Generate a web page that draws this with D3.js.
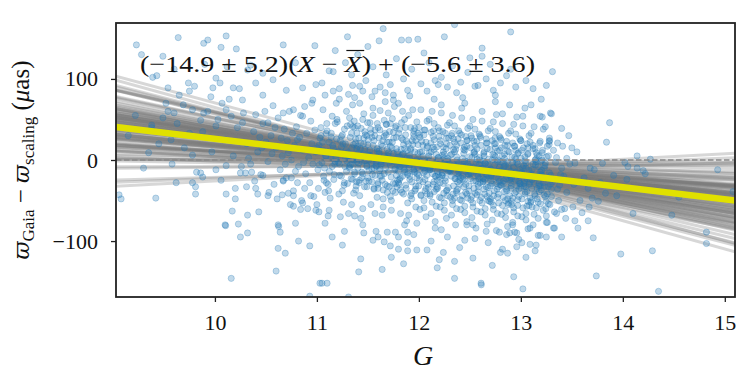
<!DOCTYPE html>
<html>
<head>
<meta charset="utf-8">
<script src="https://cdn.jsdelivr.net/npm/d3@7"></script>
<style>
  body{margin:0;background:#fff;}
  text{font-family:"Liberation Serif","DejaVu Serif",serif;fill:#111;}
</style>
</head>
<body>
<div id="chart"></div>
<script>
const xTicks = [10,11,12,13,14,15]
const yTicks = [-100,0,100]
const fitSlope = -14.9, fitIntercept = -5.6, gMean = 12.13

// posterior draws (slope, intercept)
const slopes = [-14.1,-18.9,-5.3,-22.9,-12.5,-16.5,-8.5,-26.9,-14.9,-10.1,-20.5,0.3,-17.3,-11.7,-24.5,-7.7,-15.7,-31.7,-10.9,-3.7,
  -21.3,-13.3,-18.1,-6.1,-28.5,-9.3,-19.7,-14.9,-2.1,-22.1,-12.5,-16.5,-25.3,-8.5,3.5,-18.9,-14.1,-23.7,-10.1,-17.3,
  -6.9,-20.5,-11.7,-30.1,-13.3,-4.5,-18.1,-15.7,-7.7,-26.1,-10.9,-21.3,-1.3,-14.9,-19.7,-12.5,-22.9,-5.3,-16.5,-9.3,
  -34.9,-14.1,-18.9,-2.9,-22.1,-11.7,-17.3,-8.5,-27.7,1.1,-15.7,-10.1,-20.5,-13.3,-24.5,-6.1,-18.1,-14.9,-7.7,-29.3,
  -10.9,-16.5,-3.7,-22.9,-12.5,-19.7,6.7,-21.3,-14.1,-25.3,-9.3,-18.9,-6.9,-17.3,-11.7,-32.5,-10.1,-15.7,-0.5,-22.1,
  -34.0,5.0]
const intercepts = [-4.2,-9.6,-5.6,-3.1,-6.7,-0.2,-8.5,-4.9,-11.4,-2.4,-5.2,-7.4,-1.3,-6.3,-3.4,-12.4,-4.5,-8.1,2.0,-6.0,
  -2.7,-9.9,-3.8,-7.0,-2.0,-8.8,-5.6,0.5,-7.8,-4.9,-10.6,-4.2,-2.4,-6.7,-13.9,-3.4,-0.9,-8.5,-5.2,-6.3,
  -3.1,-9.2,1.2,-7.4,-4.5,-11.0,-5.6,-1.6,-8.1,-3.8,-6.0,-10.3,-2.7,3.0,-7.0,-4.9,-8.8,-0.6,-7.8,-4.5,
  -9.6,-3.4,-6.3,-2.0,-12.1,-5.2,-3.1,-7.4,0.2,-6.7,-4.2,-9.9,-5.6,-2.4,-12.8,-3.8,-8.5,-1.3,-6.0,-4.9,
  -7.8,0.9,-9.2,-4.5,-7.0,-2.7,-11.7,-5.6,-1.6,-8.1,-3.4,-6.3,-10.6,2.3,-5.2,-8.8,-3.8,-6.7,-0.9,-7.4,
  -2.0,-12.0]

// sparse stars [G, dPlx]
const sparse = [
  [9.23,142],[9.64,151],[9.28,130],[9.43,104],[9.49,128],[9.89,144],[9.93,148],[10.06,139],[10.11,153],[10.21,137],
  [9.54,89],[9.65,80],[9.74,95],[9.80,91],[9.69,68],[9.78,62],[9.54,60],[9.96,78],[9.98,89],[10.01,101],
  [10.18,89],[10.07,70],[9.60,58],[9.86,49],[9.57,25],[9.75,33],[9.35,9],[9.78,6],[10.32,111],[10.35,117],
  [10.47,107],[10.57,99],[10.40,95],[10.67,142],[10.98,141],[10.79,120],[10.70,86],[10.86,89],[10.99,93],[10.27,74],
  [10.47,80],[10.57,67],[10.11,62],[10.16,54],[10.01,42],[10.27,46],[10.40,56],[10.52,46],[10.67,58],[10.77,62],
  [10.86,54],[10.96,74],[9.89,58],[9.39,102],[9.38,43],[9.49,52],
  [9.06,-43],[9.08,-48],[9.42,-47],[9.62,-28],[9.78,-28],[9.81,-33],[9.81,-42],[9.86,-16],[9.88,-21],[10.11,-42],
  [10.20,-35],[10.20,-48],[10.17,-63],[10.10,-80],[10.105,-81],[10.23,-79],[10.25,-95],[10.32,-90],[10.32,-68],[10.43,-64],
  [10.42,-42],[10.52,-44],[10.31,-33],[10.39,-26],[10.16,-146],[10.60,-137],[10.62,-80],[10.625,-82],[10.64,-89],[10.62,-109],
  [10.69,-115],[10.82,-100],[10.93,-106],[10.79,-78],[10.66,-43],[10.72,-41],[10.77,-44],[10.77,-57],[10.84,-61],[10.86,-53],
  [10.94,-44],[10.99,-62],[11.02,-64],[11.05,-152],[10.93,-168],[10.81,-28],[10.75,-22],[10.67,-25],[10.47,-19],[10.30,-16],
  [10.25,-16],[10.01,-12],[10.11,-7],
  [11.65,162],[12.35,167],[11.30,152],[11.61,147],[11.83,148],[11.90,148],[11.99,149],[12.25,152],[12.90,158],[12.62,138],
  [12.50,126],[11.16,109],[11.34,105],[11.42,91],[11.45,85],[11.72,93],[11.67,83],[11.57,85],[11.89,86],[11.91,79],
  [12.08,85],[12.16,98],[12.19,93],[12.37,83],[12.55,91],[12.73,86],[12.75,80],[12.43,77],[11.16,85],[11.08,80],
  [11.37,77],[11.75,74],[12.89,68],[13.04,64],[13.29,58],[13.19,54],[13.28,23],
  [11.08,-78],[11.11,-69],[11.27,-88],[11.31,-66],[11.37,-69],[11.46,-90],[11.55,-99],[11.60,-95],[11.43,-122],[11.41,-138],
  [11.64,-135],[11.73,-120],[11.72,-106],[11.66,-101],[11.80,-95],[11.89,-102],[11.89,-112],[11.98,-111],[12.08,-111],[12.20,-123],
  [12.18,-133],[12.24,-114],[12.35,-146],[12.45,-99],[12.53,-121],[12.61,-152],[12.612,-154],[12.80,-114],[12.87,-115],[12.96,-107],
  [13.01,-102],[13.09,-104],[13.14,-112],[12.93,-144],[13.02,-159],[13.17,-93],[13.09,-84],[13.33,-84],[12.16,-84],[12.22,-86],
  [12.47,-80],[12.53,-80],[12.79,-89],[12.89,-90],[12.94,-89],[11.31,-169],[11.03,-152],[11.10,-152],[11.89,-89],[11.98,-78],
  [11.86,-80],[11.77,-89],[11.69,-89],
  [13.31,109],[13.30,57],[13.21,53],[13.24,41],[13.40,39],[13.87,46],[13.84,22],[13.28,24],[13.36,21],[13.41,17],
  [14.14,5],[14.27,1],[13.80,-4],[14.02,-3],[14.05,-8],[14.14,-10],[14.20,-13],[14.22,-17],[13.68,-10],[13.53,-4],
  [13.45,2],[13.91,-19],[14.04,-24],[14.93,-12],
  [14.10,-66],[14.48,-68],[14.55,-46],[14.82,-89],[14.82,-103],[14.29,-112],[13.98,-116],[13.74,-143],[14.35,-162],[13.71,-96],
  [13.66,-75],[13.56,-84],[13.40,-95],[13.32,-84],[13.19,-93],[13.44,-72],[13.26,-77],[13.51,-58],[13.67,-58],[13.76,-51],
  [13.94,-44],[13.83,-41],[13.70,-47],[13.35,-66],[13.40,-61],[15.08,-39],
  [13.42,-20],[13.45,-40],[13.48,-5],[13.52,-30],[13.55,10],[13.58,-50],[13.62,-22],[13.66,-35],[13.72,-12],[13.78,-28],
  [13.43,-60],[13.50,15],[13.60,-65],[13.47,30],[13.40,-10],[13.53,-75],
  [9.15,30],[9.22,55],[9.30,-10],[9.38,40],[9.45,20],[9.52,70],[9.58,-5],[9.63,45],[9.70,15],[9.75,85],
  [9.82,-15],[9.88,35],[9.93,60],[9.97,10],[10.03,50],[10.06,-25],[10.10,25],[10.14,75],[10.18,5],[10.22,40],
  [10.26,-8],[10.28,58],[10.05,95],[10.12,115],[10.24,88],[9.90,118],[9.60,112]
]

// bulk of the sample [G, dPlx]
const core = [
  [10.31,20],[10.35,-5],[10.38,35],[10.42,10],[10.45,-18],[10.47,45],[10.50,22],[10.52,-2],[10.55,30],[10.58,-30],
  [10.60,15],[10.62,52],[10.64,-12],[10.66,5],[10.68,38],[10.70,-22],[10.71,24],[10.73,60],[10.75,0],[10.77,-38],
  [10.78,18],[10.80,41],[10.82,-8],[10.83,28],[10.85,-50],[10.86,12],[10.88,66],[10.89,-17],[10.90,33],[10.92,3],
  [10.93,-28],[10.94,48],[10.95,20],[10.96,-5],[10.97,-45],[10.98,37],[10.99,10],[10.40,-35],[10.44,28],[10.56,8],
  [10.61,-48],[10.67,-26],[10.72,9],[10.79,-14],[10.84,55],[10.87,-3],[10.91,-60],[10.33,2],[10.49,60],[10.53,-40],
  [10.65,27],[10.74,-55],[10.81,25],[10.88,-35],[10.95,70],[10.36,-15],[10.46,15],[10.59,40],[10.69,-5],[10.76,33],
  [11.02,18],[11.07,-25],[11.04,40],[11.09,5],[11.01,-12],[11.06,62],[11.08,-40],[11.03,27],[11.05,-3],[11.09,33],[11.00,-55],[11.06,12],
  [11.12,22],[11.15,-8],[11.18,45],[11.11,-30],[11.14,3],[11.19,70],[11.13,-47],[11.16,15],[11.17,-18],[11.10,36],[11.18,-2],[11.15,54],[11.12,-62],[11.19,9],[11.14,28],
  [11.21,11],[11.24,-20],[11.27,38],[11.22,-5],[11.29,60],[11.25,-38],[11.23,24],[11.28,2],[11.26,-52],[11.20,47],[11.24,16],[11.29,-14],[11.22,75],[11.27,-28],[11.25,31],[11.21,-3],[11.28,20],[11.23,-70],
  [11.31,5],[11.34,33],[11.37,-17],[11.32,52],[11.36,-41],[11.39,14],[11.33,-6],[11.35,68],[11.38,26],[11.30,-29],[11.34,-55],[11.37,40],[11.32,-10],[11.39,2],[11.36,19],[11.31,81],[11.35,-24],[11.38,-37],[11.33,44],[11.39,-2],
  [11.41,9],[11.44,-22],[11.47,35],[11.42,-44],[11.46,57],[11.49,-8],[11.43,21],[11.45,-60],[11.48,3],[11.40,42],[11.44,-15],[11.47,13],[11.42,70],[11.49,-33],[11.46,27],[11.41,-4],[11.45,50],[11.48,-26],[11.43,-72],[11.47,-1],[11.40,17],[11.49,30],
  [11.51,0],[11.54,28],[11.57,-19],[11.52,46],[11.56,-36],[11.59,11],[11.53,-55],[11.55,64],[11.58,-7],[11.50,19],[11.54,-27],[11.57,37],[11.52,6],[11.59,-46],[11.56,24],[11.51,-13],[11.55,55],[11.58,-3],[11.53,33],[11.57,-66],[11.50,-22],[11.59,14],[11.54,78],[11.56,-10],
  [11.61,8],[11.64,-25],[11.67,33],[11.62,-11],[11.66,49],[11.69,-40],[11.63,19],[11.65,-58],[11.68,2],[11.60,40],[11.64,-4],[11.67,-30],[11.62,61],[11.69,13],[11.66,-17],[11.61,27],[11.65,-48],[11.68,44],[11.63,-2],[11.67,72],[11.60,-35],[11.69,22],[11.64,-68],[11.66,5],[11.62,-20],[11.68,31],
  [11.71,-3],[11.74,22],[11.77,-29],[11.72,45],[11.76,-12],[11.79,10],[11.73,-50],[11.75,34],[11.78,-19],[11.70,58],[11.74,1],[11.77,-40],[11.72,17],[11.79,-6],[11.76,66],[11.71,-33],[11.75,8],[11.78,28],[11.73,-62],[11.77,40],[11.70,-15],[11.79,-25],[11.74,51],[11.76,-2],[11.72,-45],[11.78,14],
  [11.81,4],[11.84,-20],[11.87,31],[11.82,-37],[11.86,14],[11.89,-53],[11.83,46],[11.85,-9],[11.88,23],[11.80,-28],[11.84,60],[11.87,-2],[11.82,-66],[11.89,12],[11.86,-15],[11.81,38],[11.85,-42],[11.88,-4],[11.83,27],[11.87,-31],[11.80,70],[11.89,-18],[11.84,7],[11.86,50],[11.82,-8],[11.88,-75],[11.85,19],[11.81,-24],
  [11.91,-6],[11.94,19],[11.97,-32],[11.92,40],[11.96,-15],[11.99,8],[11.93,-48],[11.95,28],[11.98,-22],[11.90,55],[11.94,-3],[11.97,-58],[11.92,14],[11.99,33],[11.96,-38],[11.91,2],[11.95,-12],[11.98,47],[11.93,-27],[11.97,24],[11.90,-68],[11.99,-9],[11.94,62],[11.96,10],[11.92,-44],[11.98,-1],[11.95,36],[11.91,-20],
  [12.01,-1],[12.04,-27],[12.07,22],[12.02,-44],[12.06,37],[12.09,-11],[12.03,10],[12.05,-59],[12.08,48],[12.00,-19],[12.04,5],[12.07,-35],[12.02,62],[12.09,-4],[12.06,-24],[12.01,28],[12.05,-50],[12.08,15],[12.03,-8],[12.07,-70],[12.00,40],[12.09,-30],[12.04,18],[12.06,-14],[12.02,-2],[12.08,-42],[12.05,31],[12.01,-61],
  [12.11,-9],[12.14,16],[12.17,-36],[12.12,34],[12.16,-20],[12.19,3],[12.13,-52],[12.15,25],[12.18,-14],[12.10,50],[12.14,-30],[12.17,7],[12.12,-66],[12.19,40],[12.16,-5],[12.11,-42],[12.15,13],[12.18,-25],[12.13,60],[12.17,-57],[12.10,-1],[12.19,-18],[12.14,29],[12.16,-76],[12.12,10],[12.18,-33],[12.15,45],[12.11,-12],
  [12.21,-4],[12.24,-29],[12.27,20],[12.22,-47],[12.26,33],[12.29,-14],[12.23,6],[12.25,-62],[12.28,43],[12.20,-21],[12.24,10],[12.27,-38],[12.22,58],[12.29,-7],[12.26,-26],[12.21,24],[12.25,-53],[12.28,-1],[12.23,-16],[12.27,-72],[12.20,36],[12.29,-34],[12.24,16],[12.26,-10],[12.22,68],[12.28,-44],[12.25,2],[12.21,-58],[12.27,27],[12.23,-19],
  [12.31,-12],[12.34,13],[12.37,-40],[12.32,30],[12.36,-23],[12.39,-3],[12.33,-55],[12.35,22],[12.38,-17],[12.30,46],[12.34,-32],[12.37,4],[12.32,-68],[12.39,36],[12.36,-8],[12.31,-46],[12.35,10],[12.38,-27],[12.33,55],[12.37,-60],[12.30,-5],[12.39,-20],[12.34,26],[12.36,-80],[12.32,7],[12.38,-36],[12.35,42],[12.31,-14],[12.37,18],[12.33,-50],
  [12.41,-7],[12.44,-33],[12.47,17],[12.42,-50],[12.46,29],[12.49,-18],[12.43,2],[12.45,-65],[12.48,39],[12.40,-25],[12.44,8],[12.47,-42],[12.42,52],[12.49,-11],[12.46,-30],[12.41,21],[12.45,-57],[12.48,-4],[12.43,-20],[12.47,-76],[12.40,33],[12.49,-38],[12.44,13],[12.46,-14],[12.42,64],[12.48,-47],[12.45,-1],[12.41,-61],[12.47,24],[12.43,-23],
  [12.51,-15],[12.54,9],[12.57,-43],[12.52,27],[12.56,-26],[12.59,-6],[12.53,-58],[12.55,18],[12.58,-20],[12.50,42],[12.54,-35],[12.57,1],[12.52,-71],[12.59,32],[12.56,-11],[12.51,-49],[12.55,7],[12.58,-30],[12.53,50],[12.57,-63],[12.50,-8],[12.59,-23],[12.54,23],[12.56,-84],[12.52,3],[12.58,-39],[12.55,38],[12.51,-17],[12.57,14],[12.53,-53],
  [12.61,-10],[12.64,-36],[12.67,14],[12.62,-53],[12.66,26],[12.69,-21],[12.63,-1],[12.65,-68],[12.68,36],[12.60,-28],[12.64,5],[12.67,-45],[12.62,48],[12.69,-14],[12.66,-33],[12.61,18],[12.65,-60],[12.68,-7],[12.63,-23],[12.67,-79],[12.60,30],[12.69,-41],[12.64,10],[12.66,-17],[12.62,60],[12.68,-50],[12.65,-4],[12.61,-64],[12.67,21],[12.63,-26],[12.66,-88],[12.60,0],
  [12.71,-18],[12.74,6],[12.77,-46],[12.72,24],[12.76,-29],[12.79,-9],[12.73,-61],[12.75,15],[12.78,-23],[12.70,39],[12.74,-38],[12.77,-2],[12.72,-74],[12.79,29],[12.76,-14],[12.71,-52],[12.75,4],[12.78,-33],[12.73,47],[12.77,-66],[12.70,-11],[12.79,-26],[12.74,20],[12.76,-87],[12.72,0],[12.78,-42],[12.75,35],[12.71,-20],[12.77,11],[12.73,-56],[12.76,56],[12.70,-32],
  [12.81,-13],[12.84,-39],[12.87,11],[12.82,-56],[12.86,23],[12.89,-24],[12.83,-4],[12.85,-71],[12.88,33],[12.80,-31],[12.84,2],[12.87,-48],[12.82,45],[12.89,-17],[12.86,-36],[12.81,15],[12.85,-63],[12.88,-10],[12.83,-26],[12.87,-82],[12.80,27],[12.89,-44],[12.84,7],[12.86,-20],[12.82,57],[12.88,-53],[12.85,-7],[12.81,-67],[12.87,18],[12.83,-29],[12.86,-92],[12.80,-2],
  [12.91,-21],[12.94,3],[12.97,-49],[12.92,21],[12.96,-32],[12.99,-12],[12.93,-64],[12.95,12],[12.98,-26],[12.90,36],[12.94,-41],[12.97,-5],[12.92,-77],[12.99,26],[12.96,-17],[12.91,-55],[12.95,1],[12.98,-36],[12.93,44],[12.97,-69],[12.90,-14],[12.99,-29],[12.94,17],[12.96,-90],[12.92,-3],[12.98,-45],[12.95,32],[12.91,-23],[12.97,8],[12.93,-59],[12.96,53],[12.90,-35],
  [13.01,-16],[13.04,-42],[13.07,8],[13.02,-59],[13.06,20],[13.09,-27],[13.03,-7],[13.05,-74],[13.08,30],[13.00,-34],[13.04,-1],[13.07,-51],[13.02,42],[13.09,-20],[13.06,-39],[13.01,12],[13.05,-66],[13.08,-13],[13.03,-29],[13.07,-85],[13.00,24],[13.09,-47],[13.04,4],[13.06,-23],[13.02,54],[13.08,-56],[13.05,-10],[13.01,-70],[13.07,15],[13.03,-32],
  [13.11,-24],[13.14,0],[13.17,-52],[13.12,18],[13.16,-35],[13.19,-15],[13.13,-67],[13.15,9],[13.18,-29],[13.10,33],[13.14,-44],[13.17,-8],[13.12,-80],[13.19,23],[13.16,-20],[13.11,-58],[13.15,-2],[13.18,-39],[13.13,41],[13.17,-72],[13.10,-17],[13.19,-32],[13.14,14],[13.16,-48],[13.12,-5],[13.18,5],
  [13.21,-19],[13.24,-45],[13.27,5],[13.22,-62],[13.26,17],[13.29,-30],[13.23,-10],[13.25,-77],[13.28,27],[13.20,-37],[13.24,-4],[13.27,-54],[13.22,38],[13.29,-23],[13.26,-42],[13.21,9],[13.25,-69],[13.28,-16],[13.23,-33],[13.20,-1],
  [13.31,-27],[13.34,-3],[13.37,-50],[13.32,12],[13.36,-36],[13.39,-18],[13.33,-64],[13.35,3],[13.38,-31],[13.30,-45],
  [11.05,95],[11.12,110],[11.22,88],[11.28,120],[11.35,92],[11.40,130],[11.48,98],[11.55,115],[11.62,90],[11.68,105],
  [11.78,125],[11.85,100],[11.93,112],[12.02,94],[12.10,120],[12.22,102],[12.28,90],[12.33,116],[12.41,96],[12.48,108],
  [12.58,92],[12.66,100],[12.70,118],[12.80,95],[12.86,104],[12.95,90],[13.05,98],[13.12,88],[13.20,75],[13.25,92],
  [11.18,135],[11.50,140],[12.05,132],[12.62,128],[12.90,112],[11.75,80],[12.15,75],[12.45,70],[12.75,72],[13.10,68],
  [11.15,-95],[11.25,-105],[11.45,-80],[11.58,-88],[11.80,-110],[11.95,-92],[12.12,-100],[12.28,-95],[12.40,-108],[12.55,-97],
  [12.68,-102],[12.82,-110],[12.98,-98],[13.15,-105],[13.25,-95],[12.35,-125],[12.72,-130],[11.85,-128],[13.05,-120],[12.92,-80]
]

// the densest part, G 11.0 - 13.3 [G, dPlx]
const dense = [
  [11.004,15],[11.023,-6],[11.041,30],[11.066,-20],[11.085,5],[11.097,45],[11.015,-35],[11.055,22],[11.075,-10],[11.093,-28],
  [11.104,10],[11.123,-14],[11.141,33],[11.166,-24],[11.185,2],[11.197,50],[11.115,-38],[11.155,18],[11.175,-5],[11.193,26],
  [11.204,7],[11.223,-19],[11.241,29],[11.266,-31],[11.285,12],[11.297,42],[11.215,-42],[11.255,20],[11.275,-8],[11.293,-1],
  [11.305,9],[11.318,-8],[11.327,28],[11.336,-23],[11.344,15],[11.352,41],[11.361,0],[11.37,-15],[11.378,21],[11.385,-32],[11.392,33],[11.312,5],[11.348,-5],[11.366,48],[11.389,-27],
  [11.402,-10],[11.41,27],[11.418,-25],[11.426,14],[11.434,39],[11.443,-2],[11.451,-17],[11.459,20],[11.467,-33],[11.474,31],[11.482,3],[11.49,-7],[11.497,46],[11.415,-28],[11.455,8],
  [11.503,25],[11.511,-26],[11.519,12],[11.527,38],[11.535,-3],[11.544,-18],[11.552,18],[11.56,-35],[11.568,30],[11.576,2],[11.584,-8],[11.592,45],[11.598,-30],[11.507,6],[11.54,-11],
  [11.601,-28],[11.609,11],[11.617,37],[11.625,-5],[11.633,-20],[11.642,17],[11.65,-37],[11.658,29],[11.666,0],[11.674,-10],[11.682,44],[11.69,-32],[11.697,5],[11.613,-13],[11.646,24],
  [11.704,9],[11.712,35],[11.72,-6],[11.728,-21],[11.736,15],[11.745,-38],[11.753,27],[11.761,-1],[11.769,-11],[11.777,42],[11.785,-33],[11.793,3],[11.799,-14],[11.708,22],[11.749,-29],
  [11.802,33],[11.81,-8],[11.818,-22],[11.826,13],[11.834,-40],[11.843,25],[11.851,-3],[11.859,-12],[11.867,40],[11.875,-35],[11.883,2],[11.891,-16],[11.898,20],[11.806,-30],[11.847,8],
  [11.903,-9],[11.911,-24],[11.919,12],[11.927,-41],[11.935,24],[11.944,-4],[11.952,-14],[11.96,39],[11.968,-36],[11.976,0],[11.984,-17],[11.992,19],[11.998,-32],[11.907,6],[11.948,32],
  [12.004,-25],[12.012,10],[12.02,-43],[12.028,23],[12.036,-6],[12.045,-16],[12.053,37],[12.061,-38],[12.069,-2],[12.077,-19],[12.085,17],[12.093,-34],[12.099,5],[12.008,31],[12.049,-10],
  [12.102,9],[12.11,-44],[12.118,21],[12.126,-7],[12.134,-17],[12.143,36],[12.151,-39],[12.159,-3],[12.167,-20],[12.175,16],[12.183,-35],[12.191,3],[12.198,29],[12.106,-12],[12.147,-27],
  [12.203,-46],[12.211,20],[12.219,-8],[12.227,-19],[12.235,35],[12.244,-41],[12.252,-4],[12.26,-22],[12.268,14],[12.276,-37],[12.284,2],[12.292,27],[12.298,-13],[12.207,-28],[12.248,7],
  [12.304,18],[12.312,-10],[12.32,-20],[12.328,33],[12.336,-42],[12.345,-6],[12.353,-23],[12.361,13],[12.369,-38],[12.377,0],[12.385,26],[12.393,-15],[12.399,-30],[12.308,6],[12.349,-47],
  [12.402,-12],[12.41,-22],[12.418,31],[12.426,-44],[12.434,-8],[12.443,-25],[12.451,12],[12.459,-40],[12.467,-2],[12.475,24],[12.483,-17],[12.491,-32],[12.498,4],[12.406,-49],[12.447,16],
  [12.503,-23],[12.511,30],[12.519,-45],[12.527,-9],[12.535,-26],[12.544,10],[12.552,-41],[12.56,-3],[12.568,23],[12.576,-18],[12.584,-33],[12.592,3],[12.598,-50],[12.507,15],[12.548,-13],
  [12.604,28],[12.612,-46],[12.62,-10],[12.628,-27],[12.636,8],[12.645,-42],[12.653,-4],[12.661,21],[12.669,-19],[12.677,-34],[12.685,1],[12.693,-51],[12.699,13],[12.608,-15],[12.649,-24],
  [12.702,-48],[12.71,-12],[12.718,-29],[12.726,7],[12.734,-44],[12.743,-6],[12.751,20],[12.759,-21],[12.767,-36],[12.775,0],[12.783,-53],[12.791,12],[12.798,-16],[12.706,-26],[12.747,27],
  [12.803,-14],[12.811,-31],[12.819,5],[12.827,-46],[12.835,-8],[12.844,18],[12.852,-23],[12.86,-38],[12.868,-2],[12.876,-55],[12.884,10],[12.892,-18],[12.898,-28],[12.807,25],[12.848,-50],
  [12.904,-32],[12.912,4],[12.92,-47],[12.928,-9],[12.936,17],[12.945,-24],[12.953,-39],[12.961,-3],[12.969,-56],[12.977,9],[12.985,-19],[12.993,-29],[12.999,24],[12.908,-51],[12.949,-15],
  [13.002,2],[13.01,-48],[13.018,-10],[13.026,15],[13.034,-25],[13.043,-40],[13.051,-4],[13.059,-57],[13.067,7],[13.075,-20],[13.083,-30],[13.091,22],[13.098,-52],[13.006,-16],[13.047,-33],
  [13.103,-50],[13.111,-12],[13.119,14],[13.127,-27],[13.135,-42],[13.144,-6],[13.152,-59],[13.16,6],[13.168,-22],[13.176,-32],[13.184,21],[13.192,-54],[13.198,-18],[13.107,-35],[13.148,1],
  [13.204,-13],[13.212,12],[13.22,-28],[13.228,-43],[13.236,-7],[13.245,-60],[13.253,4],[13.261,-23],[13.269,-33],[13.277,19],[13.285,-55],[13.293,-19],[13.299,-36],[13.208,0],[13.249,-51]
]

function render(){
  let width = 750, height = 375,
      margin = {top:23, left:116, right:15, bottom:78},
      innerW = width - margin.left - margin.right,
      innerH = height - margin.top - margin.bottom

  const x = d3.scaleLinear().domain([9.03,15.1]).range([0,innerW])
  const y = d3.scaleLinear().domain([-169,169]).range([innerH,0])

  const svg = d3.select("#chart").append("svg")
      .attr("width",width).attr("height",height)
      .style("background-color","#fff")
  svg.append("clipPath").attr("id","clip")
     .append("rect").attr("width",innerW).attr("height",innerH)

  const g = svg.append("g").attr("transform",`translate(${margin.left},${margin.top})`)
  const plot = g.append("g").attr("clip-path","url(#clip)")

  const fitLine = (m,b) => d3.line()
      .x(d=>x(d))
      .y(d=>y(b + m*(d - gMean)))(x.domain())

  plot.append("g").selectAll("path")
      .data(slopes.map((m,i)=>[m,intercepts[i]]))
      .enter().append("path")
      .attr("d",d=>fitLine(d[0],d[1]))
      .attr("fill","none")
      .attr("stroke","#7a7a7a")
      .attr("stroke-opacity",0.3)
      .attr("stroke-width",3)

  plot.append("g").selectAll("circle")
      .data(sparse.concat(core, dense))
      .enter().append("circle")
      .attr("cx",d=>x(d[0]))
      .attr("cy",d=>y(d[1]))
      .attr("r",3.1)
      .attr("fill","#1f77b4").attr("fill-opacity",0.28)
      .attr("stroke","#1f77b4").attr("stroke-opacity",0.28)
      .attr("stroke-width",1)

  plot.append("line")
      .attr("x1",0).attr("x2",innerW)
      .attr("y1",y(0)).attr("y2",y(0))
      .attr("stroke","#888").attr("stroke-width",1.4)
      .attr("stroke-dasharray","5.5,2.5")

  plot.append("path")
      .attr("d",fitLine(fitSlope,fitIntercept))
      .attr("fill","none")
      .attr("stroke","#e1e100")
      .attr("stroke-width",6.5)

  const xAxis = d3.axisBottom(x).tickValues(xTicks).tickFormat(d3.format("d")).tickSize(5).tickPadding(12)
  const yAxis = d3.axisLeft(y).tickValues(yTicks).tickFormat(d3.format("d")).tickSize(5).tickPadding(13)
  let xGroup = g.append("g").attr("transform",`translate(0,${innerH})`).call(xAxis)
  let yGroup = g.append("g").call(yAxis)
  xGroup.select(".domain").remove()
  yGroup.select(".domain").remove()
  g.selectAll(".tick line").attr("stroke","#222").attr("stroke-width",1.3)
  g.selectAll(".tick text").style("font-size","22px").attr("fill","#111")
     .style("font-family","'Liberation Serif',serif")

  g.append("rect").attr("width",innerW).attr("height",innerH)
     .attr("fill","none").attr("stroke","#222").attr("stroke-width",1.8)

  // annotation
  const ann = g.append("text").attr("x",24).attr("y",49)
      .style("font-size","24px")
      .attr("textLength",395).attr("lengthAdjust","spacingAndGlyphs")
  ann.append("tspan").text("(−14.9 ± 5.2)(")
  ann.append("tspan").style("font-style","italic").text("X")
  ann.append("tspan").text(" − ")
  let xbar = ann.append("tspan").style("font-style","italic").text("X")
  ann.append("tspan").text(") + (−5.6 ± 3.6)")
  let bb = xbar.node().getBBox()
  g.append("line").attr("x1",bb.x+3).attr("x2",bb.x+bb.width+1)
     .attr("y1",27.5).attr("y2",27.5)
     .attr("stroke","#111").attr("stroke-width",1.2)

  svg.append("text").attr("x",423).attr("y",365)
     .attr("text-anchor","middle")
     .style("font-size","28px").style("font-style","italic").text("G")

  const yl = svg.append("text")
     .attr("transform","translate(29,160) rotate(-90)")
     .attr("text-anchor","middle")
     .style("font-size","25px")
  yl.append("tspan").style("font-family","'DejaVu Serif',serif").style("font-style","italic").style("font-size","22px").text("ϖ")
  yl.append("tspan").attr("dy",5).style("font-size","17px").text("Gaia")
  yl.append("tspan").attr("dy",-5).text(" − ")
  yl.append("tspan").style("font-family","'DejaVu Serif',serif").style("font-style","italic").style("font-size","22px").text("ϖ")
  yl.append("tspan").attr("dy",5).style("font-size","17px").text("scaling")
  yl.append("tspan").attr("dy",-5).text(" (")
  yl.append("tspan").style("font-style","italic").text("μ")
  yl.append("tspan").text("as)")
}

render()
</script>
</body>
</html>
